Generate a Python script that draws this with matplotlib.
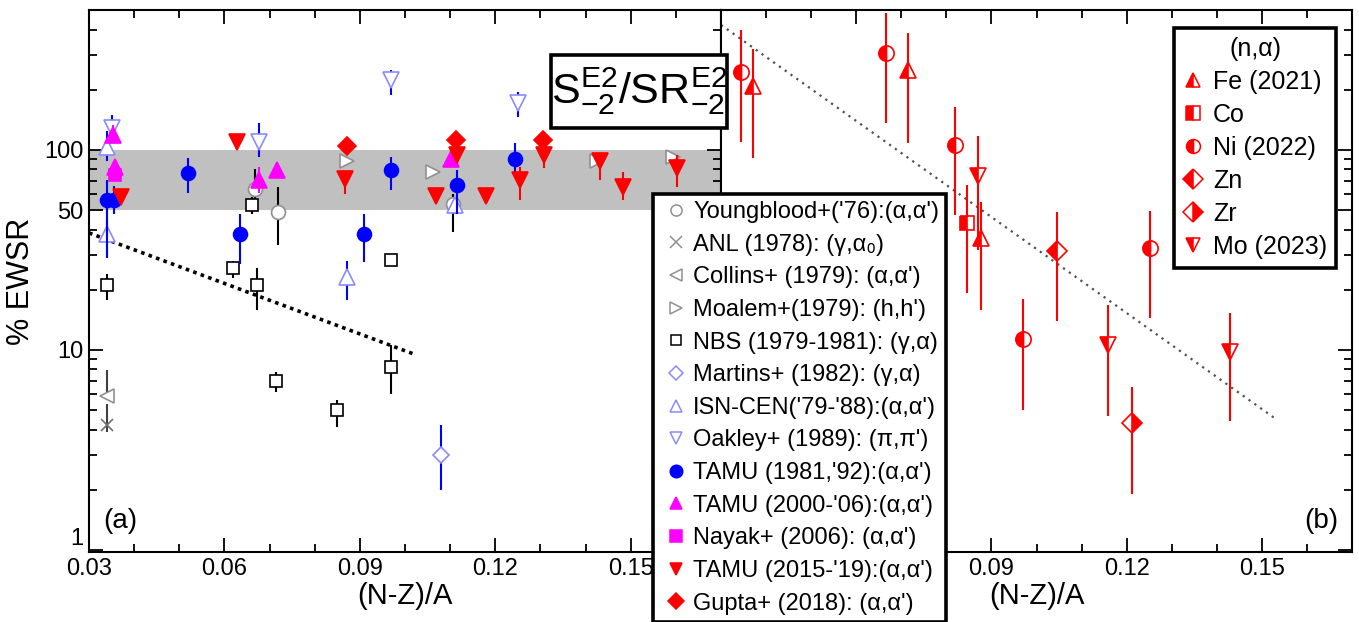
import matplotlib
matplotlib.use("Agg")
import matplotlib.pyplot as plt
from matplotlib.lines import Line2D
from matplotlib.patches import Rectangle
import numpy as np

plt.rcParams['font.family'] = ['Liberation Sans', 'DejaVu Sans']
plt.rcParams['mathtext.fontset'] = 'custom'
plt.rcParams['mathtext.rm'] = 'Liberation Sans'
plt.rcParams['mathtext.it'] = 'Liberation Sans:italic'

# ---------------- data (left panel) : x, y, y_low, y_high
young_x = [0.0668, 0.0719, 0.1106]
young_y = [64, 49, 54]
young_lo = [56, 33.5, 39]
young_hi = [80, 65, 60]

anl_x = [0.034]
anl_y = [4.2]
anl_lo = [3.9]
anl_hi = [5.4]

collins_x = [0.034]
collins_y = [5.9]
collins_lo = [5.9]
collins_hi = [7.9]

moalem_x = [0.0872, 0.1062, 0.1425, 0.1594]
moalem_y = [88, 78, 88, 92]

nbs_x = [0.034, 0.0619, 0.0672, 0.0661, 0.097, 0.0714, 0.085, 0.097]
nbs_y = [21.1, 25.7, 21.1, 53, 28.2, 7.0, 5.0, 8.2]
nbs_lo = [17.8, 23, 15.8, 48, 28.2, 6.2, 4.1, 6.0]
nbs_hi = [24, 28, 25.7, 58, 28.2, 7.8, 5.6, 10.6]

martins_x = [0.108]
martins_y = [3.0]
martins_lo = [2.0]
martins_hi = [4.2]

isn_x = [0.034, 0.034, 0.0872, 0.111]
isn_y = [103, 38, 23.2, 53]
isn_lo = [88, 29, 17.8, 48]
isn_hi = [125, 45, 28, 58]

oakley_x = [0.0351, 0.0677, 0.0969, 0.125]
oakley_y = [129, 110, 224, 172]
oakley_lo = [108, 92, 188, 146]
oakley_hi = [150, 136, 251, 195]

tamu81_x = [0.034, 0.0355, 0.052, 0.0635, 0.091, 0.097, 0.1115, 0.1244]
tamu81_y = [56, 56, 77, 38, 38, 79, 67, 90]
tamu81_lo = [29, 48, 61, 27, 27.5, 63, 48, 73]
tamu81_hi = [71, 66, 91, 48, 48, 92, 79, 108]

tamu00_x = [0.0354, 0.0357, 0.0677, 0.0716, 0.1102]
tamu00_y = [119, 82, 71, 79, 90]
tamu00_lo = [108, 82, 61, 79, 90]
tamu00_hi = [133, 82, 82, 79, 90]

nayak_x = [0.0357]
nayak_y = [75]

tamu15_x = [0.0371, 0.0628, 0.0868, 0.1069, 0.1115, 0.118, 0.1255, 0.1308, 0.1432, 0.1483, 0.1603]
tamu15_y = [58, 110, 72, 59, 94, 59, 71, 94, 88, 65, 81]
tamu15_lo = [58, 110, 60, 59, 94, 59, 56, 81, 71, 56, 65]
tamu15_hi = [58, 110, 77, 59, 94, 59, 82, 102, 97, 78, 94]

gupta_x = [0.0872, 0.1113, 0.1306]
gupta_y = [105, 112, 112]

fit_a_x = [0.030, 0.1022]
fit_a_y = [38.5, 9.5]

# ---------------- data (right panel)
fe_x = [0.0371, 0.0715, 0.0877]
fe_y = [209, 251, 36.3]
fe_lo = [91, 108, 15.8]
fe_hi = [320, 385, 55]

co_x = [0.0846]
co_y = [43]
co_lo = [19.3]
co_hi = [67]

ni_x = [0.0344, 0.0667, 0.0820, 0.0970, 0.1252]
ni_y = [245, 306, 106, 11.4, 32.4]
ni_lo = [110, 136, 47.3, 5.0, 14.5]
ni_hi = [398, 483, 164, 18, 49.6]

zn_x = [0.1046]
zn_y = [31.3]
zn_lo = [13.9]
zn_hi = [49]

zr_x = [0.1212]
zr_y = [4.3]
zr_lo = [1.9]
zr_hi = [6.5]

mo_x = [0.0870, 0.1159, 0.1429]
mo_y = [74, 10.6, 9.8]
mo_lo = [31.6, 4.7, 4.4]
mo_hi = [118, 16.8, 15.3]

fit_b_x = [0.030, 0.1534]
fit_b_y = [422, 4.47]

band_lo, band_hi = 50, 100
xlim = (0.03, 0.17)
ylim = (10 ** -0.01, 10 ** 2.70)

W, H = 1359, 622
fig = plt.figure(figsize=(W / 100, H / 100), dpi=100)
ax1 = fig.add_axes([89 / W, 1 - 552 / H, (721 - 89) / W, (552 - 10) / H])
ax2 = fig.add_axes([721 / W, 1 - 552 / H, (1352 - 721) / W, (552 - 10) / H])

GRAY = '#909090'
LBLUE = '#8a8aff'
BLUE = '#0000ff'
MAG = '#ff00ff'
RED = '#ff0000'


def errs(y, lo, hi):
    y = np.asarray(y, float)
    return [y - np.asarray(lo, float), np.asarray(hi, float) - y]


def series(ax, x, y, lo, hi, marker, ms, mfc, mec, ecolor, z=3, mew=1.2, **kw):
    if lo is not None:
        ax.errorbar(x, y, yerr=errs(y, lo, hi), fmt='none', ecolor=ecolor,
                    elinewidth=1.5, capsize=0, zorder=z - 0.5)
    ax.plot(x, y, linestyle='none', marker=marker, ms=ms, mfc=mfc, mec=mec,
            mew=mew, zorder=z, **kw)


# ---- left panel
ax1.axhspan(band_lo, band_hi, color='#c0c0c0', zorder=0, lw=0)
ax1.plot(fit_a_x, fit_a_y, color='black', ls=(0, (1, 1.2)), lw=2.6, zorder=2)
series(ax1, nbs_x, nbs_y, nbs_lo, nbs_hi, 's', 8.5, 'white', 'black', 'black')
series(ax1, young_x, young_y, young_lo, young_hi, 'o', 10, 'white', GRAY, 'black')
series(ax1, collins_x, collins_y, collins_lo, collins_hi, '<', 10, 'white', GRAY, '#404040')
series(ax1, anl_x, anl_y, anl_lo, anl_hi, 'x', 9, 'none', '#707070', '#404040')
series(ax1, moalem_x, moalem_y, None, None, '>', 10, 'white', GRAY, None)
series(ax1, martins_x, martins_y, martins_lo, martins_hi, 'D', 8.5, 'white', LBLUE, BLUE)
series(ax1, isn_x, isn_y, isn_lo, isn_hi, '^', 11, 'white', LBLUE, BLUE)
series(ax1, oakley_x, oakley_y, oakley_lo, oakley_hi, 'v', 11, 'white', LBLUE, BLUE)
series(ax1, tamu81_x, tamu81_y, tamu81_lo, tamu81_hi, 'o', 10, BLUE, BLUE, BLUE, z=4)
series(ax1, tamu00_x, tamu00_y, tamu00_lo, tamu00_hi, '^', 11, MAG, MAG, MAG, z=4)
series(ax1, nayak_x, nayak_y, None, None, 's', 9, MAG, MAG, None, z=4)
series(ax1, tamu15_x, tamu15_y, tamu15_lo, tamu15_hi, 'v', 11, RED, RED, RED, z=4)
series(ax1, gupta_x, gupta_y, None, None, 'D', 9, RED, RED, None, z=4)

# ---- right panel
ax2.plot(fit_b_x, fit_b_y, color='#505050', ls=(0, (1, 2.2)), lw=1.6, zorder=2)
hk = dict(fillstyle='left', markerfacecoloralt='white')
series(ax2, fe_x, fe_y, fe_lo, fe_hi, '^', 12, RED, RED, RED, **hk)
series(ax2, co_x, co_y, co_lo, co_hi, 's', 10, RED, RED, RED, **hk)
series(ax2, ni_x, ni_y, ni_lo, ni_hi, 'o', 11, RED, RED, RED, **hk)
series(ax2, zn_x, zn_y, zn_lo, zn_hi, 'D', 10, RED, RED, RED, **hk)
series(ax2, zr_x, zr_y, zr_lo, zr_hi, 'D', 10, RED, RED, RED, fillstyle='right', markerfacecoloralt='white')
series(ax2, mo_x, mo_y, mo_lo, mo_hi, 'v', 12, RED, RED, RED, **hk)

xt_major = [0.03, 0.06, 0.09, 0.12, 0.15]
xt_labels = ['0.03', '0.06', '0.09', '0.12', '0.15']
xt_labels_b = ['', '', '0.09', '0.12', '0.15']   # first two are hidden under the legend
xt_minor = [0.04, 0.05, 0.07, 0.08, 0.10, 0.11, 0.13, 0.14, 0.16]
yt_major = [1, 10, 50, 100]
yt_labels = ['1', '10', '50', '100']

for ax, xl in ((ax1, xt_labels), (ax2, xt_labels_b)):
    ax.set_yscale('log')
    ax.set_xlim(*xlim)
    ax.set_ylim(*ylim)
    ax.set_xticks(xt_major)
    ax.set_xticklabels(xl)
    ax.set_xticks(xt_minor, minor=True)
    ax.set_yticks(yt_major)
    ax.set_yticklabels(yt_labels)
    ax.yaxis.set_minor_locator(matplotlib.ticker.LogLocator(base=10, subs=np.arange(2, 10), numticks=20))
    ax.yaxis.set_minor_formatter(matplotlib.ticker.NullFormatter())
    for s in ax.spines.values():
        s.set_linewidth(1.5)
    ax.tick_params(which='both', direction='in', top=True, width=1.3, labelsize=17, pad=4)
    ax.tick_params(which='major', length=10)
    ax.tick_params(which='minor', length=6)
    ax.set_xlabel('(N-Z)/A', fontsize=21, labelpad=2)

ax1.tick_params(which='both', right=True)
ax2.tick_params(which='both', left=False, right=True, labelleft=False)
ax1.set_ylabel('% EWSR', fontsize=22, labelpad=6)
ax1.yaxis.get_major_ticks()[0].label1.set_va('bottom')

ax1.text(0.049, 0.058, '(a)', transform=ax1.transAxes, fontsize=20, ha='center', va='center')
ax2.text(0.951, 0.058, '(b)', transform=ax2.transAxes, fontsize=20, ha='center', va='center')

# title box
bx0, bx1, by0, by1 = 551, 727, 55, 128
fig.add_artist(Rectangle((bx0 / W, 1 - by1 / H), (bx1 - bx0) / W, (by1 - by0) / H,
                         transform=fig.transFigure, fc='white', ec='black', lw=2.6, zorder=9))
fig.text((bx0 + bx1) / 2 / W, 1 - (by0 + by1) / 2 / H, r'$\mathrm{S^{E2}_{-2}/SR^{E2}_{-2}}$',
         fontsize=31, ha='center', va='center', zorder=10)

# ---- legends
leg_labels = ["Youngblood+('76):(α,α')", "ANL (1978): (γ,α₀)", "Collins+ (1979): (α,α')",
              "Moalem+(1979): (h,h')", "NBS (1979-1981): (γ,α)", "Martins+ (1982): (γ,α)",
              "ISN-CEN('79-'88):(α,α')", "Oakley+ (1989): (π,π')", "TAMU (1981,'92):(α,α')",
              "TAMU (2000-'06):(α,α')", "Nayak+ (2006): (α,α')", "TAMU (2015-'19):(α,α')",
              "Gupta+ (2018): (α,α')"]
lstyle = [('o', 'white', GRAY), ('x', 'none', GRAY), ('<', 'white', GRAY), ('>', 'white', GRAY),
          ('s', 'white', 'black'), ('D', 'white', LBLUE), ('^', 'white', LBLUE), ('v', 'white', LBLUE),
          ('o', BLUE, BLUE), ('^', MAG, MAG), ('s', MAG, MAG), ('v', RED, RED), ('D', RED, RED)]
lsz = [8, 9, 8, 8, 7, 7, 8, 8, 9, 9, 8, 9, 8]
handles = [Line2D([], [], ls='none', marker=m, mfc=fc, mec=ec, ms=s, mew=1.1)
           for (m, fc, ec), s in zip(lstyle, lsz)]
leg = fig.legend(handles, leg_labels, loc='upper left', bbox_to_anchor=(653 / W, 1 - 194 / H),
                 bbox_transform=fig.transFigure, borderaxespad=0, fancybox=False, framealpha=1,
                 edgecolor='black', fontsize=17, labelspacing=0.45, handlelength=1.35,
                 handletextpad=0.05, borderpad=0.3)
leg.get_frame().set_linewidth(2.6)
leg.set_zorder(20)

r_labels = ['Fe (2021)', 'Co', 'Ni (2022)', 'Zn', 'Zr', 'Mo (2023)']
r_style = [('^', 'left'), ('s', 'left'), ('o', 'left'), ('D', 'left'), ('D', 'right'), ('v', 'left')]
r_handles = [Line2D([], [], ls='none', marker=m, fillstyle=f, mfc=RED, mec=RED,
                    markerfacecoloralt='white', ms=10, mew=1.1) for m, f in r_style]
leg2 = fig.legend(r_handles, r_labels, loc='upper right', bbox_to_anchor=(1336 / W, 1 - 28 / H),
                  bbox_transform=fig.transFigure, borderaxespad=0, fancybox=False, framealpha=1,
                  edgecolor='black', fontsize=18, labelspacing=0.36, handlelength=0.8,
                  handletextpad=0.4, borderpad=0.35, title='(n,α)', title_fontsize=18)
leg2.get_frame().set_linewidth(2.6)
leg2.set_zorder(20)

fig.savefig('out.png', dpi=100)
